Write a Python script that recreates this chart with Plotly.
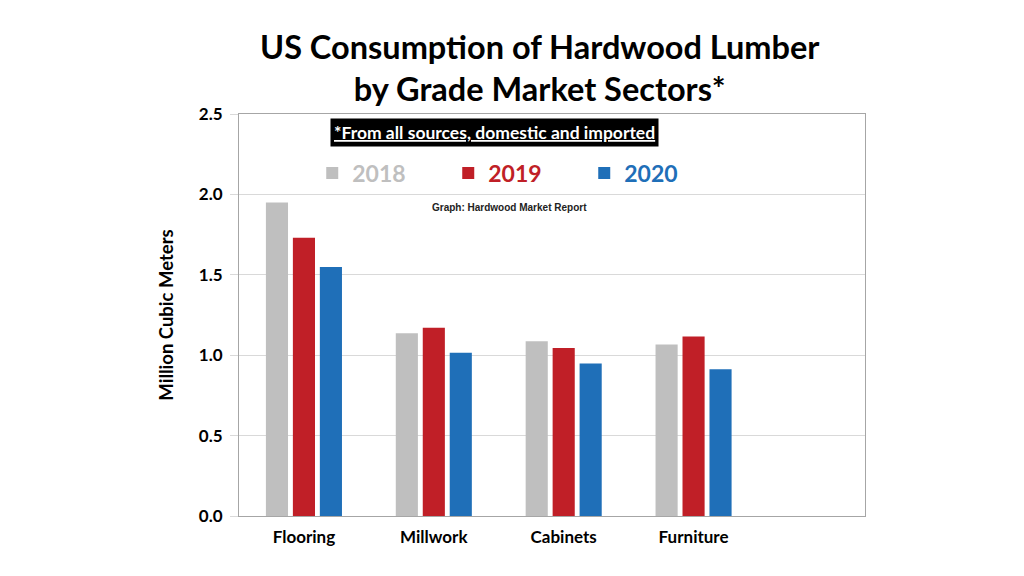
import plotly.graph_objects as go

categories = ["Flooring", "Millwork", "Cabinets", "Furniture"]
years = ["2018", "2019", "2020"]
values_2018 = [1.95, 1.137, 1.087, 1.066]
values_2019 = [1.73, 1.170, 1.044, 1.116]
values_2020 = [1.548, 1.016, 0.948, 0.913]
colors = ["#BFBFBF", "#C01F27", "#1F6FB8"]
y_ticks = [0.0, 0.5, 1.0, 1.5, 2.0, 2.5]

FONT = "Lato"
# page offset of plotly div (body margin)
OFF = 8
PL, PR, PT, PB = 239, 865, 114, 516
PW, PH = PR - PL, PB - PT

fig = go.Figure()
for yr, vals, c in zip(years, [values_2018, values_2019, values_2020], colors):
    fig.add_trace(go.Bar(
        x=categories, y=vals,
        name=f"<span style='color:{c}'>{yr}</span>",
        marker=dict(color=c, line=dict(width=0)),
    ))

def px(x):
    return (x - PL) / PW

def py(y):
    return (PB - y) / PH

fig.update_layout(
    width=1024, height=576,
    paper_bgcolor="white", plot_bgcolor="white",
    margin=dict(l=PL - OFF, r=1024 + OFF - PR, t=PT - OFF, b=576 + OFF - PB),
    barmode="group", bargap=0.377, bargroupgap=0.18,
    font=dict(family=FONT, color="black"),
    showlegend=True,
    legend=dict(
        orientation="h", x=0.117, y=py(173), xanchor="left", yanchor="middle",
        font=dict(size=23, family=FONT, weight="bold"),
        entrywidth=91, entrywidthmode="pixels",
        bgcolor="rgba(0,0,0,0)",
    ),
    xaxis=dict(
        range=[-0.5, 4.32], showgrid=False, showline=True, linecolor="#A6A6A6",
        linewidth=1, mirror=True, ticks="", ticklabelstandoff=6,
        tickfont=dict(size=17, family=FONT, weight="bold", color="black"),
    ),
    yaxis=dict(
        range=[0, 2.5], tickvals=y_ticks, tickformat=".1f",
        showgrid=True, gridcolor="#D9D9D9", gridwidth=1,
        showline=True, linecolor="#A6A6A6", linewidth=1, mirror=True,
        ticks="outside", ticklen=8, tickcolor="#D9D9D9", ticklabelstandoff=4,
        tickfont=dict(size=17, family=FONT, weight="bold", color="black"),
        title=dict(text="Million Cubic Meters", font=dict(size=18.5, family=FONT, weight="bold"), standoff=20),
        zeroline=False,
    ),
    annotations=[
        dict(text="<b>US Consumption of Hardwood Lumber<br>by Grade Market Sectors*</b>",
             xref="paper", yref="paper", x=px(540), y=py(68),
             xanchor="center", yanchor="middle", showarrow=False,
             font=dict(size=32.5, family=FONT, color="black")),
        dict(text="<u>*From all sources, domestic and imported</u>",
             xref="paper", yref="paper", x=px(494), y=py(132),
             xanchor="center", yanchor="middle", showarrow=False,
             bgcolor="black", borderpad=3,
             font=dict(size=17.5, family=FONT, color="white", weight="bold")),
        dict(text="Graph: Hardwood Market Report",
             xref="paper", yref="paper", x=px(509), y=py(207),
             xanchor="center", yanchor="middle", showarrow=False,
             font=dict(size=10, family="Liberation Sans", color="#222", weight="bold")),
    ],
)

fig.write_html("out.html")
